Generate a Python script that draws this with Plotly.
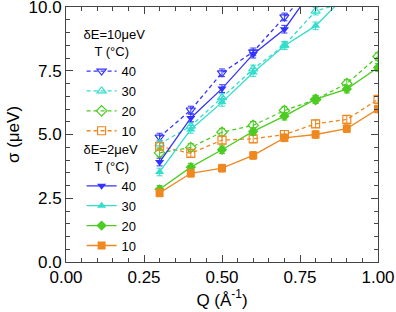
import plotly.graph_objects as go

Q = [0.3, 0.4, 0.5, 0.6, 0.7, 0.8, 0.9, 1.0]
temps = ["40", "30", "20", "10"]

# dE = 10 ueV (dashed, open markers)
s10_T40 = [4.90, 5.96, 7.42, 8.24, 9.61, 10.90]
s10_T30 = [4.63, 5.33, 6.45, 7.57, 8.50, 9.84, 10.20]
s10_T20 = [4.28, 4.49, 5.09, 5.36, 5.94, 6.37, 7.00, 8.06]
s10_T10 = [4.54, 4.26, 4.78, 4.83, 5.00, 5.42, 5.59, 6.38]
# dE = 2 ueV (solid, filled markers)
s2_T40 = [3.92, 5.65, 6.80, 8.15, 9.13, 10.85]
s2_T30 = [3.53, 5.20, 6.26, 7.43, 8.48, 9.26, 10.50]
s2_T20 = [2.85, 3.72, 4.40, 5.12, 5.72, 6.39, 6.78, 7.63]
s2_T10 = [2.71, 3.48, 3.68, 4.18, 4.87, 5.00, 5.23, 6.00]
err = [0.15, 0.15, 0.15, 0.15, 0.15, 0.15, 0.15, 0.15]

colors = {"40": "#3333ff", "30": "#33ddcc", "20": "#4ccc22", "10": "#f08820"}
open_sym = {"40": "triangle-down-open", "30": "triangle-up-open", "20": "diamond-open", "10": "square-open"}
fill_sym = {"40": "triangle-down", "30": "triangle-up", "20": "diamond", "10": "square"}

d10 = {"40": s10_T40, "30": s10_T30, "20": s10_T20, "10": s10_T10}
d2 = {"40": s2_T40, "30": s2_T30, "20": s2_T20, "10": s2_T10}

fig = go.Figure()
for t in temps:
    y = d10[t]
    fig.add_trace(go.Scatter(
        x=Q[:len(y)], y=y, name=t, legend="legend",
        mode="lines+markers",
        line=dict(color=colors[t], width=1.3, dash="4px,3px"),
        marker=dict(symbol=open_sym[t], size=8, color=colors[t], line=dict(width=1.2)),
        error_y=dict(type="data", array=err[:len(y)], color=colors[t], thickness=1, width=3),
    ))
for t in temps:
    y = d2[t]
    fig.add_trace(go.Scatter(
        x=Q[:len(y)], y=y, name=t, legend="legend2",
        mode="lines+markers",
        line=dict(color=colors[t], width=1.3),
        marker=dict(symbol=fill_sym[t], size=8, color=colors[t]),
        error_y=dict(type="data", array=err[:len(y)], color=colors[t], thickness=1, width=3),
    ))

axis_common = dict(
    showline=True, linecolor="#444", linewidth=1, mirror="ticks",
    ticks="inside", ticklen=7, tickcolor="#444", showgrid=False, zeroline=False,
    tickfont=dict(size=17, color="black"), automargin=False, ticklabeloverflow="allow",
)
fig.update_xaxes(range=[0, 1], dtick=0.25, tickformat=".2f",
                 minor=dict(dtick=0.05, ticks="inside", ticklen=4, tickcolor="#444"),
                 title=dict(text="Q (Å<sup>-1</sup>)", font=dict(size=17, color="black"), standoff=2),
                 **axis_common)
fig.update_yaxes(range=[0, 10], dtick=2.5, tickformat=".1f",
                 minor=dict(dtick=0.5, ticks="inside", ticklen=4, tickcolor="#444"),
                 title=dict(text="σ (μeV)", font=dict(size=17, color="black"), standoff=4),
                 **axis_common)

leg_common = dict(
    bgcolor="rgba(0,0,0,0)", font=dict(size=13, color="black"),
    itemwidth=30, tracegroupgap=0, xanchor="left", yanchor="top",
)
fig.update_layout(
    width=396, height=312,
    margin=dict(l=66, r=18, t=7, b=50),
    paper_bgcolor="white", plot_bgcolor="white",
    font=dict(family="Liberation Sans, Arial, sans-serif", color="black"),
    legend=dict(x=0.05, y=0.94, title=dict(text="δE=10μeV<br>&nbsp;&nbsp;&nbsp;T (°C)", side="top",
                                           font=dict(size=13)), **leg_common),
    legend2=dict(x=0.05, y=0.49, title=dict(text="δE=2μeV<br>&nbsp;&nbsp;&nbsp;T (°C)", side="top",
                                            font=dict(size=13)), **leg_common),
)

fig.write_html("out.html", config={"displayModeBar": False},
               post_script="document.body.style.margin='0';document.body.style.overflow='hidden';")
